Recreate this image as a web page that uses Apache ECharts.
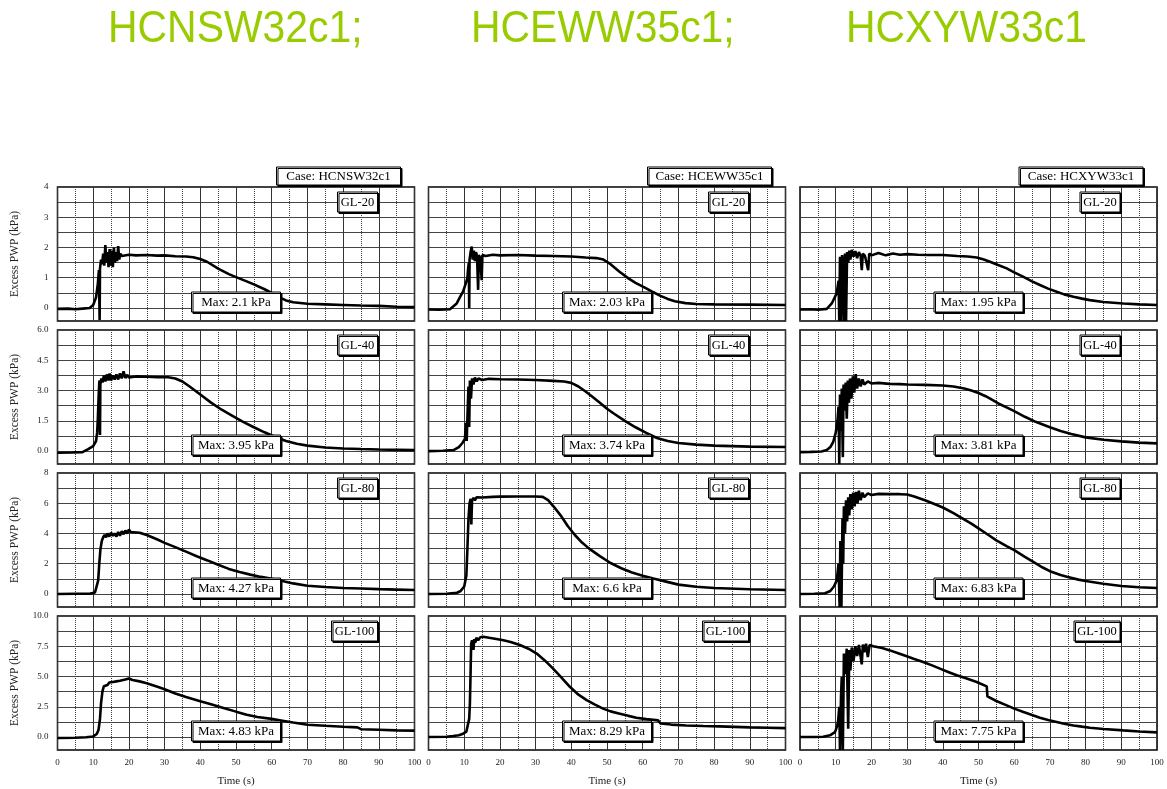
<!DOCTYPE html>
<html>
<head>
<meta charset="utf-8">
<script src="https://cdn.jsdelivr.net/npm/echarts@6/dist/echarts.min.js"></script>
<style>
  html, body { margin: 0; padding: 0; background: #fff; }
  #chart { width: 1167px; height: 789px; }
</style>
</head>
<body>
<div id="chart"></div>
<script>
// cases (columns) and gauge depths (rows)
const cases = ["HCNSW32c1", "HCEWW35c1", "HCXYW33c1"];
const depths = ["GL-20", "GL-40", "GL-80", "GL-100"];
const maxText = [
  ["2.1", "3.95", "4.27", "4.83"],
  ["2.03", "3.74", "6.6", "8.29"],
  ["1.95", "3.81", "6.83", "7.75"]
];

// y axis ranges / ticks per row
const yMaxes = [4, 6, 8, 10];
const yMins = [-0.43, -0.64, -0.86, -1.07];
const yLabelVals = [[0, 1, 2, 3, 4], [0, 1.5, 3, 4.5, 6], [0, 2, 4, 6, 8], [0, 2.5, 5, 7.5, 10]];
const yGridVals = [
  [0, 0.5, 1, 1.5, 2, 2.5, 3, 3.5, 4],
  [0, 0.75, 1.5, 2.25, 3, 3.75, 4.5, 5.25, 6],
  [0, 1, 2, 3, 4, 5, 6, 7, 8],
  [0, 1.25, 2.5, 3.75, 5, 6.25, 7.5, 8.75, 10]
];
const yDigits = [0, 1, 0, 1];

// [time (s), excess PWP (kPa)]
const nsw20 = [[0,-0.03],[3,-0.02],[5,-0.04],[7,-0.02],[9,0.0],[10,0.1],[10.8,0.35],[11.3,0.8],[11.6,1.25],[11.8,-0.4],[11.9,1.3],[12.2,1.6],[12.5,1.45],[12.8,1.8],[13.1,1.4],[13.4,2.08],[13.7,1.5],[14.0,1.85],[14.3,1.35],[14.6,1.95],[14.9,1.4],[15.2,1.9],[15.5,1.35],[15.8,2.0],[16.1,1.5],[16.4,1.85],[16.7,1.55],[17.0,2.05],[17.3,1.6],[17.6,1.8],[18,1.72],[20,1.76],[22,1.74],[25,1.75],[28,1.73],[30,1.74],[33,1.71],[36,1.7],[38,1.68],[40,1.62],[42,1.52],[45,1.3],[48,1.12],[50,1.02],[53,0.88],[55,0.78],[58,0.62],[60,0.5],[62,0.36],[64,0.25],[66,0.19],[70,0.14],[75,0.12],[80,0.1],[85,0.08],[90,0.07],[95,0.04],[100,0.03]];
const nsw40 = [[0,-0.08],[4,-0.07],[7,-0.05],[8.6,0.1],[10,0.25],[10.8,0.5],[11.1,0.9],[11.3,1.6],[11.5,2.6],[11.7,3.4],[11.8,3.5],[11.9,0.8],[12.0,3.3],[12.3,3.6],[12.6,3.4],[13,3.75],[13.4,3.45],[13.8,3.8],[14.2,3.5],[14.6,3.85],[15,3.5],[15.5,3.75],[16,3.55],[16.5,3.8],[17,3.55],[17.5,3.85],[18,3.6],[18.5,3.95],[19,3.62],[19.5,3.78],[20,3.65],[22,3.7],[25,3.68],[28,3.66],[31,3.66],[33,3.6],[35,3.45],[37,3.2],[40,2.8],[43,2.4],[46,2.05],[49,1.75],[52,1.45],[55,1.18],[58,0.93],[61,0.7],[64,0.5],[67,0.36],[70,0.27],[75,0.18],[80,0.13],[85,0.1],[90,0.08],[100,0.05]];
const nsw80 = [[0,0.0],[5,0.02],[9,0.02],[10.5,0.1],[11,0.2],[11.4,0.9],[11.7,2.0],[12,2.9],[12.4,3.5],[12.8,3.75],[13.2,3.9],[13.6,3.75],[14,4.0],[14.5,3.8],[15,4.05],[15.5,3.85],[16,4.0],[16.5,3.8],[17,4.1],[17.5,3.85],[18,4.15],[18.5,3.95],[19,4.2],[19.5,4.0],[20,4.27],[20.5,4.1],[21,4.2],[23,4.05],[25,3.9],[28,3.6],[30,3.38],[33,3.1],[36,2.8],[39,2.5],[42,2.22],[45,1.93],[48,1.66],[51,1.45],[54,1.28],[57,1.13],[60,1.0],[63,0.86],[66,0.7],[70,0.55],[75,0.46],[80,0.4],[85,0.36],[90,0.32],[95,0.29],[100,0.26]];
const nsw100 = [[0,-0.08],[5,-0.06],[8,-0.02],[10,0.05],[11,0.25],[11.5,0.6],[11.9,1.5],[12.2,2.8],[12.6,3.8],[13,4.2],[13.5,4.35],[14,4.3],[14.5,4.5],[15,4.35],[15.5,4.55],[16,4.4],[16.5,4.6],[17,4.45],[17.5,4.65],[18,4.55],[19,4.75],[20,4.83],[21,4.72],[23,4.6],[25,4.45],[28,4.15],[30,3.95],[33,3.6],[36,3.3],[40,2.95],[43,2.7],[46,2.45],[50,2.1],[53,1.85],[56,1.65],[60,1.5],[63,1.35],[66,1.2],[70,1.02],[75,0.93],[80,0.85],[84,0.8],[85,0.65],[90,0.6],[95,0.55],[100,0.53]];

const ew20 = [[0,-0.05],[3,-0.06],[6,-0.04],[7.9,0.15],[9,0.4],[9.7,0.55],[10.4,0.8],[10.9,1.0],[11.1,1.3],[11.3,1.5],[11.4,0.0],[11.5,1.6],[11.8,1.85],[12.1,2.03],[12.4,1.6],[12.7,1.9],[13,1.55],[13.3,1.85],[13.6,1.7],[13.9,0.6],[14.1,1.75],[14.5,1.65],[14.9,0.92],[15.1,1.75],[16,1.72],[18,1.76],[20,1.74],[25,1.75],[30,1.73],[35,1.72],[40,1.7],[44,1.67],[47,1.65],[49,1.6],[51,1.45],[53.5,1.2],[56,0.98],[58,0.83],[61,0.65],[63,0.52],[65,0.4],[67,0.3],[69,0.22],[72,0.16],[75,0.13],[80,0.12],[90,0.11],[100,0.1]];
const ew40 = [[0,0.0],[4,0.02],[7,0.05],[8.5,0.2],[9.5,0.4],[10.2,0.6],[10.5,1.4],[10.7,0.5],[11,2.2],[11.2,3.2],[11.4,1.2],[11.6,3.5],[11.9,2.6],[12.2,3.6],[12.6,3.3],[13,3.65],[13.5,3.45],[14,3.6],[15,3.52],[17,3.58],[20,3.56],[25,3.55],[30,3.52],[35,3.48],[38,3.45],[40,3.38],[42,3.2],[44,2.95],[46,2.68],[48,2.4],[50,2.1],[52,1.85],[55,1.5],[58,1.18],[61,0.9],[64,0.65],[67,0.5],[70,0.4],[75,0.32],[80,0.27],[90,0.22],[100,0.2]];
const ew80 = [[0,0.0],[5,0.02],[8,0.08],[9,0.2],[10,0.5],[10.6,1.2],[10.9,3.0],[11.2,5.0],[11.5,6.0],[11.8,6.3],[12,4.6],[12.2,6.2],[12.6,6.35],[13,6.2],[13.5,6.4],[15,6.38],[18,6.42],[20,6.44],[25,6.45],[30,6.45],[32,6.42],[33.5,6.2],[35,5.8],[37,5.2],[39,4.5],[41,3.9],[43,3.4],[45,3.0],[48,2.5],[51,2.05],[54,1.7],[57,1.42],[60,1.2],[63,1.02],[66,0.85],[70,0.62],[75,0.48],[80,0.4],[90,0.31],[100,0.26]];
const ew100 = [[0,0.0],[5,0.03],[6.9,0.08],[8.5,0.15],[9.7,0.28],[10.6,0.45],[11.1,0.6],[11.4,1.5],[11.6,2.8],[11.8,5.5],[11.95,7.7],[12.2,8.0],[12.4,7.6],[12.6,7.2],[12.8,8.1],[13.1,7.8],[13.4,8.2],[13.9,8.0],[14.5,8.25],[15.3,8.29],[17,8.2],[19,8.1],[21,8.0],[23,7.85],[25.6,7.6],[28,7.3],[30.3,6.9],[32.5,6.35],[34.9,5.65],[37,5.0],[39.6,4.15],[42,3.5],[44.3,3.05],[46.5,2.7],[48.9,2.35],[51,2.12],[53.6,1.93],[56,1.75],[58.2,1.6],[61,1.48],[64.3,1.38],[65,1.12],[68,1.03],[72.2,0.96],[77,0.91],[81.5,0.88],[90,0.8],[95,0.77],[100,0.74]];

const xy20 = [[0,-0.05],[3,-0.04],[5,-0.06],[7.5,-0.03],[8.9,0.15],[10.3,0.49],[10.8,0.9],[11.0,-0.43],[11.2,1.69],[11.5,-0.43],[11.8,1.75],[12.1,1.4],[12.3,-0.43],[12.6,1.8],[12.9,-0.43],[13.2,1.85],[13.5,1.5],[13.8,1.9],[14.1,1.6],[14.5,1.92],[15,1.7],[15.5,1.88],[16,1.65],[16.5,1.85],[17.0,1.72],[17.3,1.25],[17.6,1.8],[18.2,1.72],[19.1,1.25],[19.4,1.8],[20,1.74],[22,1.82],[24,1.74],[26,1.8],[28,1.76],[30,1.78],[33,1.76],[36,1.75],[40,1.75],[44,1.72],[47,1.7],[49.5,1.67],[51.5,1.6],[53.2,1.53],[55.5,1.42],[57.9,1.31],[60,1.18],[62.6,1.03],[65,0.88],[67.2,0.76],[69.5,0.64],[71.9,0.54],[74,0.45],[76.6,0.37],[79,0.31],[81.2,0.26],[85,0.2],[90.6,0.15],[95,0.12],[100,0.1]];
const xy40 = [[0,-0.05],[3,-0.04],[6,-0.02],[7.5,0.05],[8.5,0.2],[9.3,0.45],[10,0.9],[10.5,1.5],[10.8,2.2],[11,-0.64],[11.2,2.8],[11.5,1.0],[11.7,3.1],[12,-0.3],[12.2,3.3],[12.5,2.0],[12.8,3.4],[13.1,1.6],[13.4,3.5],[13.7,2.4],[14,3.6],[14.4,2.6],[14.8,3.7],[15.2,2.9],[15.6,3.81],[16,3.1],[16.5,3.6],[17,3.2],[17.5,3.55],[18,3.3],[19,3.45],[20,3.35],[22,3.38],[25,3.33],[28,3.32],[30,3.3],[35,3.28],[40,3.25],[43,3.2],[46,3.1],[48,3.0],[50,2.88],[52,2.72],[54,2.52],[56,2.32],[58,2.15],[60,1.98],[63,1.7],[66,1.45],[70,1.18],[73,1.0],[76,0.85],[80,0.68],[85,0.56],[90,0.48],[95,0.42],[100,0.38]];
const xy80 = [[0,0.0],[4,0.02],[7,0.05],[8.5,0.2],[9.5,0.5],[10.3,0.9],[10.8,2.0],[11.1,-0.86],[11.3,3.5],[11.6,-0.86],[11.9,5.0],[12.1,2.0],[12.3,5.8],[12.6,4.0],[12.9,6.2],[13.2,4.8],[13.5,6.4],[13.8,5.2],[14.1,6.6],[14.5,5.6],[14.9,6.7],[15.3,5.8],[15.7,6.75],[16.1,6.0],[16.5,6.83],[17,6.2],[17.5,6.7],[18,6.4],[19,6.65],[20,6.55],[22,6.62],[25,6.6],[28,6.6],[30,6.58],[32,6.45],[35,6.2],[38,5.92],[40,5.72],[43,5.35],[45,5.07],[48,4.65],[50,4.34],[53,3.87],[55,3.55],[58,3.15],[60,2.9],[63,2.45],[65,2.17],[68,1.75],[70,1.51],[73,1.25],[75,1.12],[78,0.95],[80,0.86],[85,0.68],[90,0.53],[95,0.45],[100,0.4]];
const xy100 = [[0,0.0],[4,0.0],[6.5,0.02],[8.4,0.14],[9.8,0.41],[10.4,0.9],[10.7,1.38],[11.0,2.5],[11.2,-1.07],[11.5,3.5],[11.7,4.96],[12.0,-1.07],[12.3,6.9],[12.6,5.2],[13.1,7.3],[13.5,0.69],[13.8,7.2],[14.1,5.5],[14.5,7.4],[15,6.3],[15.5,7.5],[16,6.7],[16.5,7.6],[17.3,6.0],[17.6,7.65],[18,7.0],[18.5,7.71],[19,6.6],[19.5,7.6],[20.5,7.5],[23,7.35],[25.2,7.16],[27.5,6.93],[29.9,6.67],[32,6.45],[34.5,6.2],[37,5.92],[39.2,5.65],[41.5,5.38],[43.9,5.1],[46.5,4.85],[49.5,4.55],[52.3,4.19],[52.5,3.36],[55,2.98],[57.9,2.62],[60,2.35],[62.6,2.07],[65,1.82],[67.2,1.6],[69.5,1.4],[71.9,1.24],[74,1.1],[76.6,0.96],[79,0.86],[81.2,0.77],[85,0.67],[90.6,0.55],[95,0.46],[100,0.39]];

const curves = [
  [nsw20, nsw40, nsw80, nsw100],
  [ew20, ew40, ew80, ew100],
  [xy20, xy40, xy80, xy100]
];

// layout
const colLeft = [57.5, 428.5, 800];
const colW = 357;
const rowTop = [187, 330, 473, 616];
const rowH = 134;
const serif = '"Liberation Serif", "Times New Roman", serif';

let chart = echarts.init(document.getElementById("chart"));

let grids = [], xAxes = [], yAxes = [], series = [], graphics = [];

// titles (slightly narrow sans, like the original slide text)
const titleX = [108, 471, 846];
cases.forEach(function (name, c) {
  graphics.push({
    type: "text", x: titleX[c], y: 30, scaleX: 0.93,
    style: {
      text: name + (c < cases.length - 1 ? ";" : ""),
      font: '44px "Liberation Sans", Arial, sans-serif',
      fill: "#99cc00", align: "left", verticalAlign: "middle",
      textAlign: "left", textVerticalAlign: "middle"
    }
  });
});

function addBox(x, y, w, h, text, size) {
  graphics.push({
    type: "rect", z: 100,
    shape: { x: x, y: y, width: w, height: h },
    style: { fill: "#fff", stroke: "#000", lineWidth: 1, shadowColor: "#000", shadowOffsetX: 1.5, shadowOffsetY: 1.5, shadowBlur: 0 }
  });
  graphics.push({
    type: "text", z: 101, x: x + w / 2, y: y + h / 2 + 0.5,
    style: {
      text: text, font: size + "px " + serif, fill: "#000",
      align: "center", verticalAlign: "middle", textAlign: "center", textVerticalAlign: "middle"
    }
  });
}

for (let c = 0; c < 3; c++) {
  let right = colLeft[c] + colW;
  addBox(right - 14 - 124, 167, 124, 18, "Case: " + cases[c], 13);
  for (let r = 0; r < 4; r++) {
    let idx = c * 4 + r;
    grids.push({
      left: colLeft[c], top: rowTop[r], width: colW, height: rowH,
      show: true, borderColor: "#000", borderWidth: 1.5, backgroundColor: "transparent"
    });
    xAxes.push({
      gridIndex: idx, type: "value", min: 0, max: 100, interval: 10,
      axisLine: { show: false }, axisTick: { show: false },
      axisLabel: { show: r === 3, fontSize: 9, fontFamily: serif, color: "#222", margin: 8 },
      splitLine: { show: true, lineStyle: { color: "#333", width: 1 } },
      minorTick: { show: false, splitNumber: 2 },
      minorSplitLine: { show: true, lineStyle: { color: "#444", width: 1, type: "dotted" } },
      name: r === 3 ? "Time (s)" : "", nameLocation: "middle", nameGap: 26,
      nameTextStyle: { fontSize: 11, fontFamily: serif, color: "#222" }
    });
    let digits = yDigits[r];
    yAxes.push({
      gridIndex: idx, type: "value", min: yMins[r], max: yMaxes[r],
      axisLine: { show: false },
      axisTick: { show: false, customValues: yGridVals[r] },
      axisLabel: {
        show: c === 0, customValues: yLabelVals[r], fontSize: 9, fontFamily: serif, color: "#222", margin: 9,
        formatter: function (v) { return Number(v).toFixed(digits); }
      },
      splitLine: { show: true, lineStyle: { color: "#444", width: 1 } },
      name: c === 0 ? "Excess PWP (kPa)" : "", nameLocation: "middle", nameGap: 37, nameRotate: 90,
      nameTextStyle: { fontSize: 11.5, fontFamily: serif, color: "#222" }
    });
    series.push({
      type: "line", xAxisIndex: idx, yAxisIndex: idx,
      data: curves[c][r], symbol: "none", showSymbol: false, clip: true,
      lineStyle: { color: "#000", width: 2.6 }
    });
    let glW = depths[r].length > 5 ? 46 : 40;
    addBox(right - 37 - glW, rowTop[r] + 5, glW, 20, depths[r], 12.5);
    addBox(colLeft[c] + 134, rowTop[r] + 105, 89, 20, "Max: " + maxText[c][r] + " kPa", 13);
  }
}

chart.setOption({
  animation: false,
  backgroundColor: "#fff",
  grid: grids,
  xAxis: xAxes,
  yAxis: yAxes,
  series: series,
  graphic: graphics
});
</script>
</body>
</html>
